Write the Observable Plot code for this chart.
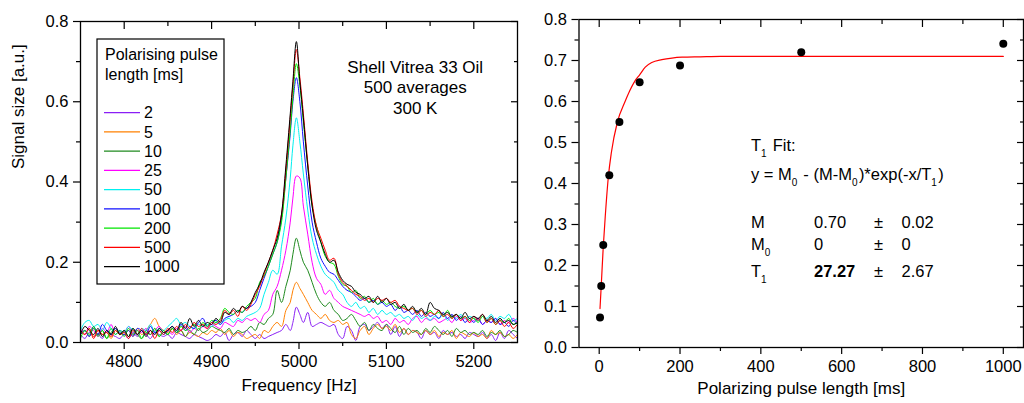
<!DOCTYPE html>
<html><head><meta charset="utf-8">
<script src="https://cdn.jsdelivr.net/npm/d3@7"></script>
<script src="https://cdn.jsdelivr.net/npm/@observablehq/plot@0.6"></script>
<style>
body{margin:0;background:#fff;}
#wrap{position:relative;width:1024px;height:403px;overflow:hidden;background:#fff;font-family:"Liberation Sans",Arial,sans-serif;}
#left,#right{position:absolute;top:0;}
#left{left:0;width:520px;}
#right{left:520px;width:504px;}
#overlay{position:absolute;left:0;top:0;pointer-events:none;}
</style></head>
<body><div id="wrap"><div id="left"></div><div id="right"></div></div>
<script>
// ---------- Left panel data ----------
const freq = [
4750,4755,4760,4765,4770,4775,4780,4785,4790,4795,
4800,4805,4810,4815,4820,4825,4830,4835,4840,4845,
4850,4855,4860,4865,4870,4875,4880,4885,4890,4895,
4900,4905,4910,4915,4920,4925,4930,4935,4940,4945,
4950,4955,4960,4965,4970,4975,4980,4985,4990,
4993,4997,5001,
5005,5010,5015,5020,5025,5030,5035,5040,5045,
5050,5055,5060,5065,5070,5075,5080,5085,5090,5095,
5100,5105,5110,5115,5120,5125,5130,5135,5140,5145,
5150,5155,5160,5165,5170,5175,5180,5185,5190,5195,
5200,5205,5210,5215,5220,5225,5230,5235,5240,5245,5250];

const pulseLengths = ["2","5","10","25","50","100","200","500","1000"];
const seriesColors = ["#8a1ef5","#ff8000","#1f8a1f","#ff00ff","#00f0f0","#1010ff","#00e600","#ff0000","#000000"];

const sig2 = [
0.02,0.01,0.025,0.015,0.02,0.01,0.03,0.02,0.015,0.01,
0.02,0.01,0.025,0.015,0.03,0.02,0.01,0.025,0.02,0.015,
0.02,0.01,0.025,0.02,0.015,0.01,0.02,0.015,0.01,0.005,
0.01,0.02,0.015,0.025,0.005,0.02,0.025,0.015,0.03,0.02,
0.01,0.02,0.01,0.015,0.02,0.025,0.03,0.045,0.03,
0.05,0.088,0.07,
0.05,0.075,0.04,0.045,0.05,0.045,0.04,0.045,0.02,
0.01,0.04,0.03,0.005,0.04,0.045,0.03,0.04,0.05,0.035,
0.045,0.02,0.04,0.015,0.035,0.02,0.03,0.025,0.01,0.03,
0.02,0.025,0.01,0.03,0.02,0.025,0.015,0.02,0.01,0.025,
0.02,0.015,0.025,0.01,0.02,0.005,0.025,0.01,0.03,0.02,0.01];
const sig5 = [
0.03,0.02,0.035,0.015,0.03,0.02,0.025,0.01,0.03,0.02,
0.025,0.03,0.015,0.035,0.02,0.03,0.045,0.06,0.04,0.03,
0.025,0.035,0.02,0.03,0.015,0.025,0.02,0.015,0.025,0.02,
0.03,0.025,0.035,0.02,0.03,0.015,0.025,0.02,0.01,0.015,
0.02,0.01,0.03,0.025,0.04,0.05,0.04,0.08,0.1,
0.13,0.15,0.135,
0.12,0.1,0.08,0.07,0.06,0.07,0.055,0.05,0.055,
0.045,0.05,0.02,0.01,0.03,0.04,0.02,0.035,0.045,0.035,
0.04,0.03,0.045,0.025,0.035,0.02,0.03,0.025,0.02,0.03,
0.02,0.03,0.015,0.025,0.02,0.03,0.01,0.025,0.02,0.015,
0.025,0.015,0.02,0.01,0.03,0.02,0.025,0.015,0.02,0.01,0.02];
const sig10 = [
0.02,0.03,0.015,0.035,0.02,0.03,0.01,0.025,0.035,0.02,
0.03,0.015,0.035,0.02,0.01,0.03,0.02,0.035,0.015,0.025,
0.02,0.035,0.025,0.03,0.015,0.03,0.02,0.035,0.025,0.03,
0.04,0.035,0.03,0.025,0.035,0.02,0.03,0.025,0.03,0.04,
0.03,0.05,0.045,0.06,0.07,0.13,0.1,0.14,0.18,
0.22,0.26,0.23,
0.2,0.18,0.15,0.12,0.1,0.09,0.1,0.08,0.07,
0.055,0.06,0.07,0.055,0.04,0.05,0.03,0.045,0.035,0.03,
0.045,0.035,0.025,0.04,0.02,0.035,0.025,0.03,0.02,0.035,
0.025,0.04,0.03,0.02,0.03,0.015,0.035,0.025,0.03,0.02,
0.025,0.02,0.03,0.015,0.025,0.02,0.03,0.015,0.02,0.03,0.025];
const sig25 = [
0.035,0.02,0.04,0.03,0.015,0.035,0.025,0.045,0.02,0.03,
0.025,0.04,0.02,0.03,0.025,0.035,0.02,0.03,0.04,0.025,
0.03,0.02,0.035,0.03,0.04,0.025,0.035,0.03,0.04,0.035,
0.045,0.04,0.035,0.05,0.045,0.04,0.055,0.05,0.06,0.055,
0.06,0.05,0.07,0.08,0.12,0.14,0.18,0.23,0.3,
0.36,0.415,0.41,
0.34,0.27,0.2,0.16,0.145,0.12,0.13,0.11,0.1,
0.09,0.085,0.08,0.075,0.07,0.065,0.07,0.06,0.065,0.05,
0.055,0.045,0.06,0.05,0.055,0.045,0.06,0.065,0.05,0.06,
0.055,0.06,0.05,0.055,0.06,0.05,0.065,0.055,0.06,0.05,
0.055,0.06,0.045,0.055,0.05,0.06,0.045,0.055,0.05,0.06,0.05];
const sig50 = [
0.03,0.05,0.055,0.04,0.045,0.03,0.05,0.035,0.02,0.03,
0.025,0.04,0.03,0.02,0.035,0.03,0.045,0.025,0.035,0.03,
0.04,0.05,0.06,0.045,0.05,0.04,0.035,0.045,0.04,0.045,
0.04,0.05,0.045,0.055,0.06,0.05,0.06,0.055,0.065,0.07,
0.075,0.085,0.12,0.15,0.18,0.17,0.24,0.31,0.41,
0.49,0.56,0.5,
0.42,0.33,0.26,0.22,0.19,0.17,0.16,0.15,0.13,
0.12,0.1,0.09,0.1,0.085,0.09,0.075,0.085,0.07,0.08,
0.07,0.075,0.065,0.07,0.06,0.065,0.055,0.07,0.06,0.065,
0.055,0.065,0.06,0.07,0.055,0.065,0.06,0.07,0.06,0.065,
0.06,0.055,0.065,0.06,0.07,0.055,0.065,0.06,0.07,0.055,0.06];
const sig100 = [
0.02,0.03,0.015,0.04,0.02,0.045,0.03,0.02,0.035,0.025,
0.02,0.03,0.015,0.035,0.03,0.02,0.04,0.025,0.03,0.02,
0.03,0.04,0.025,0.045,0.03,0.04,0.035,0.05,0.06,0.04,
0.05,0.055,0.045,0.06,0.065,0.07,0.08,0.075,0.085,0.09,
0.1,0.13,0.16,0.19,0.22,0.25,0.31,0.41,0.52,
0.6,0.66,0.6,
0.5,0.39,0.3,0.25,0.21,0.19,0.175,0.17,0.155,
0.14,0.13,0.125,0.115,0.105,0.11,0.1,0.105,0.095,0.1,
0.09,0.095,0.08,0.09,0.075,0.08,0.07,0.08,0.065,0.075,
0.065,0.07,0.06,0.075,0.06,0.07,0.055,0.065,0.05,0.06,
0.05,0.06,0.045,0.055,0.05,0.06,0.045,0.05,0.04,0.055,0.045];
const sig200 = [
0.01,0.03,0.02,0.04,0.015,0.03,0.01,0.035,0.02,0.03,
0.015,0.035,0.02,0.03,0.01,0.025,0.02,0.035,0.015,0.03,
0.02,0.035,0.025,0.04,0.03,0.035,0.045,0.03,0.05,0.04,
0.055,0.05,0.06,0.085,0.075,0.07,0.08,0.075,0.09,0.1,
0.11,0.15,0.165,0.19,0.22,0.25,0.3,0.41,0.53,
0.61,0.695,0.64,
0.55,0.44,0.34,0.29,0.25,0.215,0.2,0.195,0.165,
0.145,0.14,0.125,0.13,0.11,0.115,0.1,0.11,0.095,0.105,
0.095,0.1,0.09,0.085,0.09,0.08,0.085,0.075,0.08,0.07,
0.08,0.07,0.075,0.065,0.08,0.06,0.07,0.06,0.065,0.055,
0.06,0.05,0.065,0.05,0.06,0.045,0.055,0.05,0.06,0.045,0.05];
const sig500 = [
0.03,0.02,0.035,0.01,0.03,0.02,0.025,0.015,0.03,0.02,
0.025,0.01,0.03,0.02,0.035,0.02,0.03,0.01,0.03,0.02,
0.035,0.025,0.04,0.03,0.045,0.035,0.05,0.04,0.045,0.035,
0.05,0.045,0.055,0.08,0.07,0.08,0.065,0.09,0.08,0.095,
0.12,0.14,0.17,0.2,0.23,0.27,0.32,0.43,0.56,
0.64,0.73,0.66,
0.57,0.45,0.35,0.29,0.26,0.23,0.205,0.21,0.17,
0.15,0.14,0.13,0.12,0.115,0.105,0.11,0.1,0.11,0.105,
0.11,0.1,0.105,0.09,0.085,0.08,0.085,0.07,0.08,0.065,
0.075,0.07,0.08,0.065,0.07,0.06,0.07,0.055,0.065,0.05,
0.065,0.055,0.07,0.05,0.06,0.045,0.055,0.04,0.05,0.035,0.045];
const sig1000 = [
0.02,0.04,0.03,0.02,0.035,0.015,0.03,0.02,0.04,0.02,
0.03,0.015,0.035,0.02,0.03,0.015,0.03,0.02,0.035,0.025,
0.03,0.04,0.03,0.05,0.035,0.06,0.04,0.055,0.04,0.05,
0.045,0.06,0.05,0.075,0.07,0.085,0.075,0.09,0.085,0.1,
0.125,0.145,0.175,0.2,0.23,0.26,0.32,0.44,0.57,
0.65,0.75,0.65,
0.56,0.44,0.34,0.28,0.25,0.22,0.2,0.205,0.175,
0.155,0.145,0.14,0.125,0.12,0.11,0.115,0.1,0.115,0.1,
0.11,0.095,0.1,0.085,0.095,0.08,0.09,0.075,0.085,0.07,
0.1,0.085,0.08,0.07,0.075,0.065,0.07,0.06,0.075,0.06,
0.065,0.06,0.07,0.055,0.065,0.05,0.06,0.05,0.055,0.045,0.05];

const xTicksL = [4800,4900,5000,5100,5200];
const xMinorL = [4850,4950,5050,5150];
const yTicksL = [0,0.2,0.4,0.6,0.8];
const yMinorL = [0.1,0.3,0.5,0.7];
const xTitleL = "Frequency [Hz]";
const yTitleL = "Signal size [a.u.]";
const annotationL = "Shell Vitrea 33 Oil\n500 averages\n300 K";
const legendTitle = ["Polarising pulse","length [ms]"];

// ---------- Right panel data ----------
const pulseMs = [2,5,10,25,50,100,200,500,1000];
const signalSize = [0.073,0.15,0.25,0.42,0.55,0.647,0.688,0.72,0.741];
const fitX = [2,5,10,15,23,30,45,64,75,89,100,114,130,155,180,205,250,300,500,1000];
const fitY = [0.095,0.15,0.245,0.32,0.42,0.475,0.55,0.6,0.625,0.651,0.665,0.684,0.695,0.702,0.706,0.708,0.709,0.71,0.71,0.71];
const xTicksR = [0,200,400,600,800,1000];
const xMinorR = [100,300,500,700,900];
const yTicksR = [0,0.1,0.2,0.3,0.4,0.5,0.6,0.7,0.8];
const yMinorR = [0.05,0.15,0.25,0.35,0.45,0.55,0.65,0.75];
const xTitleR = "Polarizing pulse length [ms]";
const fitNames = [["M",""],["M","0"],["T","1"]];
const fitValues = ["0.70","0","27.27"];
const fitErrors = ["0.02","0","2.67"];

// ---------- Build ----------
const FONT = "Liberation Sans, Arial, sans-serif";
const allSig = [sig2,sig5,sig10,sig25,sig50,sig100,sig200,sig500,sig1000];
const spectra = [];
allSig.forEach((vals,k)=>vals.forEach((v,i)=>spectra.push({f:freq[i], v, s:pulseLengths[k]})));

function boxAxes(xMaj,xMin,yMaj,yMin,xFmt,yFmt){
  return [
    Plot.axisX(xMaj,{anchor:"bottom",tickSize:7,tickPadding:6,tickFormat:xFmt,label:null,strokeWidth:1.2}),
    Plot.axisX(xMin,{anchor:"bottom",tickSize:4,fill:"none",label:null,strokeWidth:1.2}),
    Plot.axisX(xMaj,{anchor:"top",tickSize:-7,fill:"none",label:null,strokeWidth:1.2}),
    Plot.axisX(xMin,{anchor:"top",tickSize:-4,fill:"none",label:null,strokeWidth:1.2}),
    Plot.axisY(yMaj,{anchor:"left",tickSize:7,tickPadding:5,tickFormat:yFmt,label:null,strokeWidth:1.2}),
    Plot.axisY(yMin,{anchor:"left",tickSize:4,fill:"none",label:null,strokeWidth:1.2}),
    Plot.axisY(yMaj,{anchor:"right",tickSize:-7,fill:"none",label:null,strokeWidth:1.2}),
    Plot.axisY(yMin,{anchor:"right",tickSize:-4,fill:"none",label:null,strokeWidth:1.2})
  ];
}

const left = Plot.plot({
  width:520, height:403, marginLeft:80, marginRight:3, marginTop:21, marginBottom:61,
  style:{fontFamily:FONT, fontSize:"16.5px", color:"#000", background:"transparent"},
  x:{domain:[4750,5250]}, y:{domain:[0,0.8]},
  color:{domain:pulseLengths, range:seriesColors},
  marks:[
    Plot.line(spectra,{x:"f",y:"v",z:"s",stroke:"s",strokeWidth:1,curve:"catmull-rom",clip:true}),
    Plot.frame({stroke:"#000",strokeWidth:1.3}),
    ...boxAxes(xTicksL,xMinorL,yTicksL,yMinorL,d3.format("d"),d3.format(".1f")),
    Plot.text([xTitleL],{frameAnchor:"bottom",dy:48,fontSize:17,fill:"#000"}),
    Plot.text([yTitleL],{frameAnchor:"left",dx:-62,dy:-13,rotate:-90,fontSize:17,fill:"#000"}),
    Plot.text([annotationL],{x:5133,y:0.6375,fontSize:17,lineHeight:1.22,fill:"#000"})
  ]
});
document.getElementById("left").appendChild(left);

const points = pulseMs.map((x,i)=>({x, y:signalSize[i]}));
const fit = fitX.map((x,i)=>({x, y:fitY[i]}));
const right = Plot.plot({
  width:504, height:403, marginLeft:58.5, marginRight:1, marginTop:19, marginBottom:56,
  style:{fontFamily:FONT, fontSize:"16.5px", color:"#000", background:"transparent"},
  x:{domain:[-50,1050]}, y:{domain:[0,0.8]},
  marks:[
    Plot.line(fit,{x:"x",y:"y",stroke:"#ff0000",strokeWidth:1.2,curve:"monotone-x"}),
    Plot.dot(points,{x:"x",y:"y",r:4,fill:"#000",stroke:"none"}),
    Plot.frame({stroke:"#000",strokeWidth:1.3}),
    ...boxAxes(xTicksR,xMinorR,yTicksR,yMinorR,d3.format("d"),d3.format(".1f")),
    Plot.text([xTitleR],{frameAnchor:"bottom",dy:46,fontSize:17,fill:"#000"})
  ]
});
document.getElementById("right").appendChild(right);

// ---------- Overlay: legend and fit text ----------
const ov = d3.select("#wrap").append("svg").attr("id","overlay")
  .attr("width",1024).attr("height",403)
  .attr("font-family",FONT).attr("fill","#000");

const lg = ov.append("g").attr("font-size",16);
lg.append("rect").attr("x",97).attr("y",39).attr("width",127).attr("height",245)
  .attr("fill","#fff").attr("stroke","#000").attr("stroke-width",1.2);
legendTitle.forEach((t,i)=>lg.append("text").attr("x",105).attr("y",60+i*19.5).text(t));
pulseLengths.forEach((p,i)=>{
  const cy = 112.7 + i*19.25;
  lg.append("line").attr("x1",104).attr("x2",140).attr("y1",cy).attr("y2",cy)
    .attr("stroke",seriesColors[i]).attr("stroke-width",1.3);
  lg.append("text").attr("x",144).attr("y",cy).attr("dy","0.36em").text(p);
});

function richText(g, x, y, parts, extra){
  const t = g.append("text").attr("x",x).attr("y",y);
  if (extra) extra(t);
  parts.forEach(([s,sub])=>{
    if (s) t.append("tspan").text(s);
    if (sub){
      t.append("tspan").attr("dy",6).attr("font-size",10).text(sub);
      t.append("tspan").attr("dy",-6).text("\u200A");
    }
  });
  return t;
}
const ft = ov.append("g").attr("font-size",16.5);
richText(ft, 751, 151, [["T","1"],[" Fit:",""]]);
richText(ft, 751, 180, [["y = M","0"],[" - (M-M","0"],[")*exp(-x/T","1"],[")",""]]);
const rowY = [228.3, 250, 276.7];
fitNames.forEach((nm,i)=>{
  richText(ft, 751, rowY[i], [nm]);
  ft.append("text").attr("x",814).attr("y",rowY[i]).attr("font-weight", i===2?"bold":null).text(fitValues[i]);
  ft.append("text").attr("x",874).attr("y",rowY[i]).text("\u00B1");
  ft.append("text").attr("x",901.5).attr("y",rowY[i]).text(fitErrors[i]);
});
</script>
</body></html>
